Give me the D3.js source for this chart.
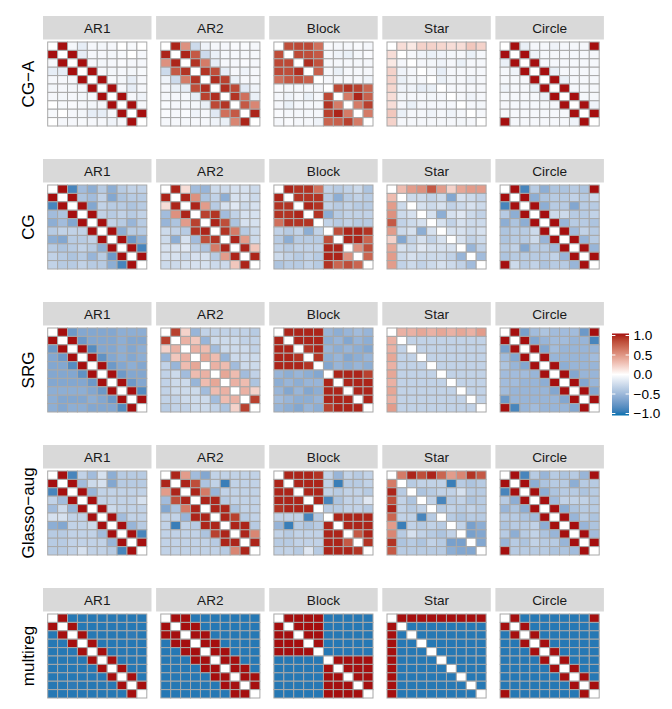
<!DOCTYPE html>
<html>
<head>
<meta charset="utf-8">
<script src="https://cdn.jsdelivr.net/npm/d3@7"></script>
<style>
  body { margin: 0; background: #fff; }
  text { font-family: "Liberation Sans", Arial, sans-serif; }
</style>
</head>
<body>
<div id="chart"></div>
<script>
// methods (rows) and structures (columns)
const methods = ["CG\u2212A", "CG", "SRG", "Glasso\u2212aug", "multireg"];
const structures = ["AR1", "AR2", "Block", "Star", "Circle"];

// each matrix is stored as its upper triangle: row i holds columns i+1..9
const cgaAR1 = [
  [1, -0.05, -0.12, -0.05, -0.06, -0.05, 0, -0.04, 0],
  [1, -0.12, -0.05, -0.05, -0.06, -0.04, 0, -0.05],
  [1, -0.05, -0.06, -0.05, -0.03, -0.05, -0.05],
  [1, -0.05, -0.06, -0.05, -0.06, -0.04],
  [1, -0.04, -0.06, -0.12, -0.05],
  [1, -0.05, -0.12, -0.05],
  [1, -0.05, -0.08],
  [1, -0.05],
  [1]
];
const cgaAR2 = [
  [0.95, 0.5, -0.25, -0.08, -0.05, -0.05, -0.03, -0.03, -0.05],
  [0.95, 0.75, -0.25, -0.1, -0.05, -0.05, -0.05, -0.05],
  [0.9, 0.6, -0.12, -0.05, -0.05, -0.03, -0.05],
  [0.9, 0.8, -0.12, -0.05, -0.08, -0.05],
  [0.92, 0.85, -0.1, -0.05, -0.05],
  [0.92, 0.82, -0.15, -0.08],
  [0.9, 0.65, -0.1],
  [0.75, 0.55],
  [0.95]
];
const cgaBlock = [
  [0.8, 0.82, 0.82, 0.65, -0.03, -0.05, -0.05, -0.03, -0.05],
  [0.82, 0.8, 0.75, -0.05, -0.08, -0.1, -0.05, -0.03],
  [0.92, 0.78, -0.05, -0.05, -0.05, -0.05, -0.05],
  [0.72, -0.05, -0.1, -0.05, -0.05, -0.05],
  [-0.05, -0.05, -0.05, -0.05, -0.08],
  [0.82, 0.9, 0.85, 0.7],
  [0.6, 0.95, 0.72],
  [0.6, 0.85],
  [0.6]
];
const cgaStar = [
  [0.15, 0.1, 0.2, 0.2, 0.18, 0.15, 0.15, 0.25, 0.2],
  [-0.05, -0.08, -0.1, -0.08, -0.06, -0.05, -0.1, -0.05],
  [-0.05, -0.06, -0.08, -0.05, -0.1, -0.05, -0.05],
  [-0.05, -0.12, -0.05, -0.05, -0.05, -0.05],
  [-0.1, -0.06, -0.05, -0.08, -0.05],
  [-0.05, -0.05, -0.05, -0.05],
  [-0.05, -0.08, -0.05],
  [-0.05, -0.06],
  [-0.05]
];
const cgaCircle = [
  [1, -0.1, -0.05, -0.05, -0.08, -0.05, -0.05, -0.05, 1],
  [1, -0.08, -0.05, -0.05, -0.05, -0.05, -0.05, -0.05],
  [1, -0.05, -0.05, -0.05, -0.05, -0.05, -0.05],
  [1, -0.1, -0.05, -0.05, -0.05, -0.05],
  [1, -0.1, -0.05, -0.05, -0.05],
  [1, -0.05, -0.05, -0.05],
  [1, -0.05, -0.05],
  [1, -0.08],
  [1]
];

const cgAR1 = [
  [1, -0.85, -0.45, -0.55, -0.35, -0.55, -0.35, -0.3, -0.3],
  [1, -0.4, -0.45, -0.3, -0.6, -0.4, -0.35, -0.35],
  [1, -0.6, -0.3, -0.35, -0.35, -0.4, -0.35],
  [1, -0.3, -0.35, -0.3, -0.35, -0.3],
  [1, -0.3, -0.35, -0.5, -0.35],
  [1, -0.55, -0.35, -0.35],
  [1, -0.7, -0.55],
  [1, -0.85],
  [1]
];
const cgAR2 = [
  [0.95, 0.15, -0.45, -0.5, -0.25, -0.25, -0.2, -0.2, -0.25],
  [0.95, 0.5, -0.4, -0.3, -0.55, -0.2, -0.2, -0.25],
  [0.95, 0.45, -0.35, -0.2, -0.15, -0.25, -0.2],
  [0.85, 0.9, -0.45, -0.3, -0.2, -0.2],
  [0.95, 0.8, -0.4, -0.2, -0.2],
  [0.9, 0.6, -0.35, -0.25],
  [0.95, 0.45, -0.25],
  [0.95, 0.25],
  [0.95]
];
const cgBlock = [
  [0.95, 0.9, 0.9, 0.65, -0.3, -0.35, -0.3, -0.25, -0.4],
  [0.9, 0.9, 0.9, -0.35, -0.55, -0.35, -0.3, -0.35],
  [0.95, 0.9, -0.3, -0.35, -0.3, -0.35, -0.35],
  [0.9, -0.55, -0.35, -0.3, -0.3, -0.3],
  [-0.3, -0.35, -0.3, -0.35, -0.35],
  [0.8, 0.95, 0.95, 0.9],
  [0.95, 0.95, 0.7],
  [0.5, 0.8],
  [0.7]
];
const cgStar = [
  [0.3, 0.45, 0.5, 0.75, 0.45, 0.2, 0.4, 0.45, 0.45],
  [-0.25, -0.25, -0.3, -0.25, -0.6, -0.2, -0.25, -0.3],
  [-0.2, -0.25, -0.2, -0.3, -0.25, -0.2, -0.25],
  [-0.2, -0.55, -0.2, -0.15, -0.25, -0.3],
  [-0.2, -0.3, -0.2, -0.25, -0.25],
  [-0.2, -0.2, -0.25, -0.2],
  [-0.2, -0.3, -0.25],
  [-0.5, -0.3],
  [-0.45]
];
const cgCircle = [
  [1, -0.85, -0.35, -0.55, -0.4, -0.4, -0.35, -0.4, 1],
  [1, -0.55, -0.4, -0.35, -0.35, -0.3, -0.35, -0.25],
  [1, -0.55, -0.35, -0.35, -0.6, -0.35, -0.35],
  [1, -0.25, -0.25, -0.35, -0.35, -0.3],
  [1, -0.5, -0.35, -0.35, -0.4],
  [1, -0.45, -0.3, -0.35],
  [1, -0.5, -0.35],
  [1, -0.5],
  [1]
];

const srgAR1 = [
  [1, -0.7, -0.6, -0.6, -0.6, -0.6, -0.55, -0.55, -0.55],
  [1, -0.7, -0.6, -0.6, -0.6, -0.55, -0.6, -0.6],
  [1, -0.8, -0.6, -0.6, -0.55, -0.6, -0.55],
  [1, -0.75, -0.6, -0.55, -0.6, -0.55],
  [1, -0.7, -0.6, -0.55, -0.6],
  [1, -0.7, -0.6, -0.6],
  [1, -0.7, -0.6],
  [1, -0.8],
  [1]
];
const srgAR2 = [
  [0.85, 0.2, -0.5, -0.3, -0.3, -0.3, -0.3, -0.3, -0.35],
  [0.35, 0.25, -0.5, -0.25, -0.25, -0.25, -0.3, -0.3],
  [0.35, 0.3, -0.45, -0.25, -0.25, -0.25, -0.3],
  [0.4, 0.3, -0.5, -0.25, -0.25, -0.25],
  [0.35, 0.3, -0.45, -0.25, -0.25],
  [0.4, 0.3, -0.45, -0.3],
  [0.35, 0.3, -0.4],
  [0.35, 0.2],
  [0.85]
];
const srgBlock = [
  [0.95, 0.95, 0.95, 0.95, -0.5, -0.55, -0.5, -0.45, -0.5],
  [0.95, 0.95, 0.95, -0.55, -0.5, -0.6, -0.5, -0.55],
  [0.9, 0.95, -0.5, -0.55, -0.5, -0.55, -0.6],
  [0.9, -0.55, -0.5, -0.6, -0.55, -0.5],
  [-0.6, -0.5, -0.55, -0.5, -0.55],
  [0.95, 0.95, 0.95, 0.85],
  [0.95, 0.95, 0.95],
  [0.95, 0.95],
  [0.95]
];
const srgStar = [
  [0.35, 0.35, 0.4, 0.35, 0.4, 0.35, 0.4, 0.35, 0.45],
  [-0.3, -0.3, -0.3, -0.3, -0.3, -0.3, -0.3, -0.3],
  [-0.3, -0.3, -0.3, -0.3, -0.3, -0.3, -0.3],
  [-0.3, -0.3, -0.3, -0.3, -0.3, -0.3],
  [-0.3, -0.3, -0.3, -0.3, -0.3],
  [-0.3, -0.3, -0.3, -0.3],
  [-0.3, -0.3, -0.3],
  [-0.3, -0.3],
  [-0.3]
];
const srgCircle = [
  [1, -0.65, -0.45, -0.4, -0.45, -0.45, -0.45, -0.7, 1],
  [1, -0.6, -0.5, -0.45, -0.45, -0.5, -0.5, -0.85],
  [1, -0.6, -0.45, -0.5, -0.5, -0.5, -0.5],
  [1, -0.5, -0.5, -0.5, -0.5, -0.45],
  [1, -0.55, -0.5, -0.5, -0.5],
  [1, -0.6, -0.5, -0.5],
  [1, -0.6, -0.5],
  [1, -0.6],
  [1]
];

const glAR1 = [
  [1, -0.85, -0.3, -0.45, -0.2, -0.55, -0.35, -0.35, -0.35],
  [1, -0.45, -0.25, -0.2, -0.6, -0.35, -0.35, -0.35],
  [1, -0.5, -0.3, -0.3, -0.3, -0.3, -0.3],
  [1, -0.3, -0.3, -0.3, -0.3, -0.2],
  [1, -0.25, -0.3, -0.3, -0.3],
  [1, -0.45, -0.3, -0.3],
  [1, -0.5, -0.35],
  [1, -0.85],
  [1]
];
const glAR2 = [
  [0.95, 0.45, -0.45, -0.6, -0.3, -0.3, -0.3, -0.3, -0.3],
  [0.95, 0.8, -0.4, -0.3, -0.9, -0.3, -0.3, -0.3],
  [0.95, 0.6, -0.5, -0.3, -0.3, -0.3, -0.3],
  [0.95, 0.95, -0.35, -0.3, -0.3, -0.3],
  [0.95, 0.95, -0.4, -0.3, -0.3],
  [0.95, 0.85, -0.35, -0.3],
  [0.95, 0.95, -0.35],
  [0.95, 0.55],
  [0.95]
];
const glBlock = [
  [0.95, 0.95, 0.95, 0.9, -0.3, -0.5, -0.3, -0.35, -0.3],
  [0.95, 0.95, 0.95, -0.3, -0.9, -0.35, -0.35, -0.3],
  [0.95, 0.95, -0.3, -0.35, -0.3, -0.3, -0.35],
  [0.95, -0.85, -0.4, -0.3, -0.3, -0.15],
  [-0.35, -0.35, -0.3, -0.3, -0.35],
  [0.95, 0.95, 0.95, 0.95],
  [0.95, 0.95, 0.95],
  [0.75, 0.95],
  [0.9]
];
const glStar = [
  [0.6, 0.95, 0.8, 0.95, 0.7, 0.45, 0.55, 0.9, 0.75],
  [-0.35, -0.3, -0.3, -0.3, -0.9, -0.35, -0.4, -0.35],
  [-0.4, -0.35, -0.3, -0.3, -0.2, -0.35, -0.35],
  [-0.3, -0.85, -0.35, -0.3, -0.4, -0.35],
  [-0.35, -0.3, -0.35, -0.3, -0.35],
  [-0.35, -0.4, -0.35, -0.35],
  [-0.3, -0.65, -0.55],
  [-0.65, -0.6],
  [-0.6]
];
const glCircle = [
  [1, -0.85, -0.35, -0.5, -0.35, -0.4, -0.35, -0.5, 1],
  [1, -0.55, -0.4, -0.35, -0.35, -0.55, -0.35, -0.35],
  [1, -0.55, -0.4, -0.35, -0.35, -0.4, -0.35],
  [1, -0.45, -0.3, -0.3, -0.3, -0.35],
  [1, -0.55, -0.4, -0.35, -0.35],
  [1, -0.5, -0.35, -0.4],
  [1, -0.5, -0.4],
  [1, -0.45],
  [1]
];

const mrAR1 = [
  [1, -0.95, -0.95, -0.95, -0.95, -0.95, -0.95, -0.95, -0.95],
  [1, -0.95, -0.95, -0.95, -0.95, -0.95, -0.95, -0.95],
  [1, -0.95, -0.95, -0.95, -0.95, -0.93, -0.95],
  [1, -0.95, -0.95, -0.95, -0.95, -0.95],
  [1, -0.95, -0.95, -0.95, -0.95],
  [1, -0.95, -0.95, -0.95],
  [1, -0.95, -0.95],
  [1, -0.95],
  [1]
];
const mrAR2 = [
  [1, 1, -0.95, -0.95, -0.95, -0.95, -0.95, -0.95, -0.95],
  [1, 1, -0.95, -0.95, -0.95, -0.95, -0.95, -0.95],
  [1, 1, -0.95, -0.95, -0.95, -0.95, -0.95],
  [1, 1, -0.95, -0.95, -0.95, -0.95],
  [1, 1, -0.95, -0.95, -0.95],
  [1, 1, -0.95, -0.95],
  [1, 1, -0.95],
  [1, 1],
  [1]
];
const mrBlock = [
  [1, 1, 1, 1, -0.95, -0.95, -0.95, -0.95, -0.95],
  [1, 1, 1, -0.95, -0.95, -0.95, -0.95, -0.95],
  [1, 1, -0.95, -0.95, -0.95, -0.95, -0.95],
  [1, -0.95, -0.95, -0.95, -0.95, -0.95],
  [-0.95, -0.95, -0.95, -0.95, -0.95],
  [1, 1, 1, 1],
  [1, 1, 1],
  [1, 1],
  [1]
];
const mrStar = [
  [1, 1, 1, 1, 1, 1, 1, 1, 1],
  [-0.95, -0.95, -0.95, -0.95, -0.95, -0.95, -0.95, -0.95],
  [-0.95, -0.95, -0.95, -0.95, -0.95, -0.95, -0.95],
  [-0.95, -0.95, -0.95, -0.95, -0.95, -0.95],
  [-0.95, -0.95, -0.95, -0.95, -0.95],
  [-0.95, -0.95, -0.95, -0.95],
  [-0.95, -0.95, -0.95],
  [-0.95, -0.95],
  [-0.95]
];
const mrCircle = [
  [1, -0.95, -0.95, -0.95, -0.95, -0.95, -0.95, -0.95, 1],
  [1, -0.95, -0.95, -0.95, -0.95, -0.95, -0.95, -0.95],
  [1, -0.95, -0.95, -0.95, -0.95, -0.95, -0.95],
  [1, -0.95, -0.95, -0.95, -0.95, -0.95],
  [1, -0.95, -0.95, -0.95, -0.95],
  [1, -0.95, -0.95, -0.95],
  [1, -0.95, -0.95],
  [1, -0.95],
  [1]
];

const legendBreaks = [1, 0.5, 0, -0.5, -1];
const legendLabels = ["1.0", "0.5", "0.0", "\u22120.5", "\u22121.0"];

const panels = [
  [cgaAR1, cgaAR2, cgaBlock, cgaStar, cgaCircle],
  [cgAR1, cgAR2, cgBlock, cgStar, cgCircle],
  [srgAR1, srgAR2, srgBlock, srgStar, srgCircle],
  [glAR1, glAR2, glBlock, glStar, glCircle],
  [mrAR1, mrAR2, mrBlock, mrStar, mrCircle]
];

// expand upper triangle into a full symmetric 10x10 cell list (diagonal = 0)
function toCells(upper) {
  const cells = [];
  for (let i = 0; i < 10; i++) {
    for (let j = 0; j < 10; j++) {
      let v = 0;
      if (j > i) v = upper[i][j - i - 1];
      else if (j < i) v = upper[j][i - j - 1];
      cells.push({ i, j, v });
    }
  }
  return cells;
}

const width = 672, height = 709;
const svg = d3.select("#chart").append("svg")
  .attr("width", width).attr("height", height);

const color = d3.scaleLinear()
  .domain([-1, 0, 1])
  .range(["#0571B0", "#ffffff", "#A50F0F"])
  .interpolate(d3.interpolateLab)
  .clamp(true);

const panelW = 108.5, stripH = 23.5, stripGap = 2.5, tileH = 84, inset = 4.7;
const colX = d3.scaleBand().domain(structures).range([43, 43 + 5 * 113.1]).paddingInner(0);
const rowY = d3.scaleBand().domain(methods).range([16, 16 + 5 * 143]);

const x = d3.scaleBand().domain(d3.range(10)).range([0, panelW - 2 * inset]);
const y = d3.scaleBand().domain(d3.range(10)).range([0, tileH]);

methods.forEach((m, r) => {
  const top = rowY(m);

  // row label (y axis title)
  svg.append("text")
    .attr("transform", `translate(34,${top + stripH + stripGap + tileH / 2}) rotate(-90)`)
    .attr("text-anchor", "middle")
    .attr("font-size", "17px")
    .attr("fill", "#000")
    .text(m);

  structures.forEach((s, c) => {
    const left = colX(s);
    const g = svg.append("g");

    // strip
    g.append("rect")
      .attr("x", left).attr("y", top)
      .attr("width", panelW).attr("height", stripH)
      .attr("fill", "#d9d9d9");
    g.append("text")
      .attr("x", left + panelW / 2).attr("y", top + stripH / 2)
      .attr("dy", "0.35em")
      .attr("text-anchor", "middle")
      .attr("font-size", "13.6px")
      .attr("fill", "#1a1a1a")
      .text(s);

    // tiles
    const tg = g.append("g")
      .attr("transform", `translate(${left + inset},${top + stripH + stripGap})`);
    tg.selectAll("rect")
      .data(toCells(panels[r][c]))
      .enter()
      .append("rect")
      .attr("x", d => x(d.j))
      .attr("y", d => y(d.i))
      .attr("width", x.bandwidth())
      .attr("height", y.bandwidth())
      .attr("fill", d => color(d.v))
      .attr("stroke", "#a8a8a8")
      .attr("stroke-width", 1);
  });
});

// colour bar legend
const barX = 612, barW = 17;
const ly = d3.scaleLinear().domain([1, -1]).range([335.5, 413.5]);
const defs = svg.append("defs");
const grad = defs.append("linearGradient")
  .attr("id", "cbar").attr("x1", 0).attr("x2", 0).attr("y1", 0).attr("y2", 1);
d3.range(0, 1.0001, 0.05).forEach(t => {
  grad.append("stop")
    .attr("offset", t)
    .attr("stop-color", color(1 - 2 * t));
});
svg.append("rect")
  .attr("x", barX).attr("y", ly(1) - 2)
  .attr("width", barW).attr("height", ly(-1) - ly(1) + 4)
  .attr("fill", "url(#cbar)");

const lg = svg.append("g");
legendBreaks.forEach((b, k) => {
  const yy = ly(b);
  lg.append("line")
    .attr("x1", barX).attr("x2", barX + barW / 5)
    .attr("y1", yy).attr("y2", yy)
    .attr("stroke", "#fff").attr("stroke-width", 1);
  lg.append("line")
    .attr("x1", barX + barW - barW / 5).attr("x2", barX + barW)
    .attr("y1", yy).attr("y2", yy)
    .attr("stroke", "#fff").attr("stroke-width", 1);
  lg.append("text")
    .attr("x", barX + barW + 4.5).attr("y", yy)
    .attr("dy", "0.35em")
    .attr("font-size", "13.6px")
    .attr("fill", "#000")
    .text(legendLabels[k]);
});
</script>
</body>
</html>
